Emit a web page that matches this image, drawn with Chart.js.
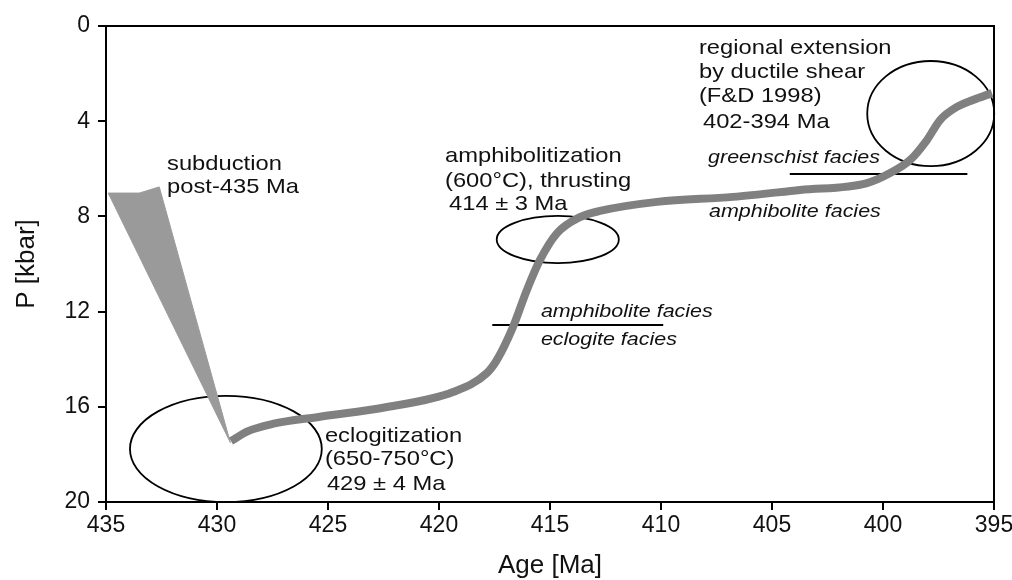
<!DOCTYPE html>
<html>
<head>
<meta charset="utf-8">
<script src="https://cdn.jsdelivr.net/npm/chart.js@4/dist/chart.umd.min.js"></script>
<style>
  html, body { margin: 0; padding: 0; background: #fff; }
  #wrap { width: 1012px; height: 580px; }
</style>
</head>
<body>
<div id="wrap"><canvas id="ptChart" width="1012" height="580"></canvas></div>
<script>
// P-T-t path (age in Ma, pressure in kbar)
var pathAge = [429.37, 428.6, 427.5, 425.36, 422.34, 419.37, 417.84, 417.39, 416.67, 416.04, 415.45, 414.68, 413.65, 412.75, 410.18, 406.76, 403.74, 400.72, 399.68, 398.78, 398.02, 397.43, 396.67, 395.95, 395.09];
var pathP   = [17.44, 17.02, 16.72, 16.42, 16.01, 15.38, 14.58, 14.03, 12.65, 11.09, 9.83, 8.70, 8.03, 7.77, 7.39, 7.18, 6.89, 6.60, 6.18, 5.63, 4.79, 3.95, 3.40, 3.11, 2.82];

// subduction wedge outline
var wedgeAge = [434.9, 433.5, 432.6, 429.4, 434.9];
var wedgeP   = [7.02, 7.02, 6.76, 17.5, 7.02];

// facies boundaries
var amphEclAge   = [417.6, 409.9];
var amphEclP     = [12.56, 12.56];
var greenAmphAge = [404.2, 396.2];
var greenAmphP   = [6.22, 6.22];

// ellipses: centre and half-axes
var ellAge  = [429.6, 414.65, 397.85];
var ellP    = [17.77, 8.97, 3.68];
var ellRAge = [4.32, 2.75, 2.86];
var ellRP   = [2.23, 0.99, 2.21];

// tick labels
var ageTicks = [435, 430, 425, 420, 415, 410, 405, 400, 395];
var pTicks   = [0, 4, 8, 12, 16, 20];

// annotation texts
var notes = [
  ['subduction', 432.25, 6.05, false],
  ['post-435 Ma', 432.25, 7.02, false],
  ['amphibolitization', 419.73, 5.71, false],
  ['(600\u00b0C), thrusting', 419.73, 6.76, false],
  ['414 \u00b1 3 Ma', 419.55, 7.73, false],
  ['eclogitization', 425.14, 17.48, false],
  ['(650-750\u00b0C)', 425.14, 18.45, false],
  ['429 \u00b1 4 Ma', 425.05, 19.50, false],
  ['regional extension', 408.29, 1.18, false],
  ['by ductile shear', 408.29, 2.18, false],
  ['(F&D 1998)', 408.29, 3.19, false],
  ['402-394 Ma', 408.11, 4.29, false],
  ['greenschist facies', 407.88, 5.76, true],
  ['amphibolite facies', 407.84, 8.03, true],
  ['amphibolite facies', 415.41, 12.23, true],
  ['eclogite facies', 415.41, 13.40, true]
];

function pts(xs, ys) {
  return xs.map(function (x, i) { return { x: x, y: ys[i] }; });
}

// ellipses under the path, frame + labels on top
var extras = {
  id: 'extras',
  beforeDatasetsDraw: function (chart) {
    var ctx = chart.ctx, xs = chart.scales.x, ys = chart.scales.y;
    ctx.save();
    ctx.strokeStyle = '#000';
    ctx.lineWidth = 1.8;
    for (var i = 0; i < ellAge.length; i++) {
      var cx = xs.getPixelForValue(ellAge[i]);
      var cy = ys.getPixelForValue(ellP[i]);
      var rx = Math.abs(xs.getPixelForValue(ellAge[i] - ellRAge[i]) - cx);
      var ry = Math.abs(ys.getPixelForValue(ellP[i] + ellRP[i]) - cy);
      ctx.beginPath();
      ctx.ellipse(cx, cy, rx, ry, 0, 0, Math.PI * 2);
      ctx.stroke();
    }
    ctx.restore();
  },
  afterDatasetsDraw: function (chart) {
    var ctx = chart.ctx, xs = chart.scales.x, ys = chart.scales.y, a = chart.chartArea;
    ctx.save();
    // top and right frame
    ctx.strokeStyle = '#000';
    ctx.lineWidth = 2;
    ctx.beginPath();
    ctx.moveTo(a.left, a.top);
    ctx.lineTo(a.right, a.top);
    ctx.lineTo(a.right, a.bottom);
    ctx.stroke();
    // labels, slightly wide like the original figure
    ctx.fillStyle = '#111';
    ctx.textAlign = 'left';
    ctx.textBaseline = 'alphabetic';
    notes.forEach(function (n) {
      ctx.font = n[3] ? 'italic 19px "Liberation Sans", Arial, sans-serif' : '21px "Liberation Sans", Arial, sans-serif';
      ctx.save();
      ctx.translate(xs.getPixelForValue(n[1]), ys.getPixelForValue(n[2]));
      ctx.scale(1.13, 1);
      ctx.fillText(n[0], 0, 0);
      ctx.restore();
    });
    ctx.restore();
  }
};

new Chart(document.getElementById('ptChart').getContext('2d'), {
  type: 'scatter',
  data: {
    datasets: [{
      data: pts(pathAge, pathP),
      showLine: true,
      borderColor: '#808080',
      borderWidth: 8,
      cubicInterpolationMode: 'monotone',
      pointRadius: 0,
      order: 0
    }, {
      data: pts(wedgeAge, wedgeP),
      showLine: true,
      fill: 'shape',
      backgroundColor: '#9a9a9a',
      borderColor: '#9a9a9a',
      borderWidth: 1,
      pointRadius: 0,
      order: 1
    }, {
      data: pts(amphEclAge, amphEclP),
      showLine: true,
      borderColor: '#000',
      borderWidth: 2,
      pointRadius: 0,
      order: 2
    }, {
      data: pts(greenAmphAge, greenAmphP),
      showLine: true,
      borderColor: '#000',
      borderWidth: 2,
      pointRadius: 0,
      order: 2
    }]
  },
  options: {
    responsive: false,
    animation: false,
    devicePixelRatio: 1,
    layout: { padding: { top: 26, right: 18, left: 0, bottom: 0 } },
    plugins: { legend: { display: false }, tooltip: { enabled: false } },
    scales: {
      x: {
        type: 'linear',
        reverse: true,
        min: 395,
        max: 435,
        afterBuildTicks: function (s) { s.ticks = ageTicks.map(function (v) { return { value: v }; }); },
        afterFit: function (s) { s.height = 78; s.paddingLeft = 0; s.paddingRight = 0; },
        grid: { drawOnChartArea: false, drawTicks: true, tickLength: 8, color: '#000', lineWidth: 2 },
        border: { color: '#000', width: 2 },
        ticks: { color: '#111', padding: 2, font: { family: '"Liberation Sans", Arial, sans-serif', size: 23 } },
        title: {
          display: true,
          text: 'Age [Ma]',
          color: '#111',
          padding: 0,
          font: { family: '"Liberation Sans", Arial, sans-serif', size: 26, lineHeight: 1.1 }
        }
      },
      y: {
        type: 'linear',
        reverse: true,
        min: 0,
        max: 20,
        afterBuildTicks: function (s) { s.ticks = pTicks.map(function (v) { return { value: v }; }); },
        afterFit: function (s) { s.width = 106; },
        grid: { drawOnChartArea: false, drawTicks: true, tickLength: 8, color: '#000', lineWidth: 2 },
        border: { color: '#000', width: 2 },
        ticks: { color: '#111', padding: 8, font: { family: '"Liberation Sans", Arial, sans-serif', size: 23 } },
        title: {
          display: true,
          text: 'P [kbar]',
          color: '#111',
          padding: { top: 13, bottom: 0 },
          font: { family: '"Liberation Sans", Arial, sans-serif', size: 26, lineHeight: 1.1 }
        }
      }
    }
  },
  plugins: [extras]
});
</script>
</body>
</html>
